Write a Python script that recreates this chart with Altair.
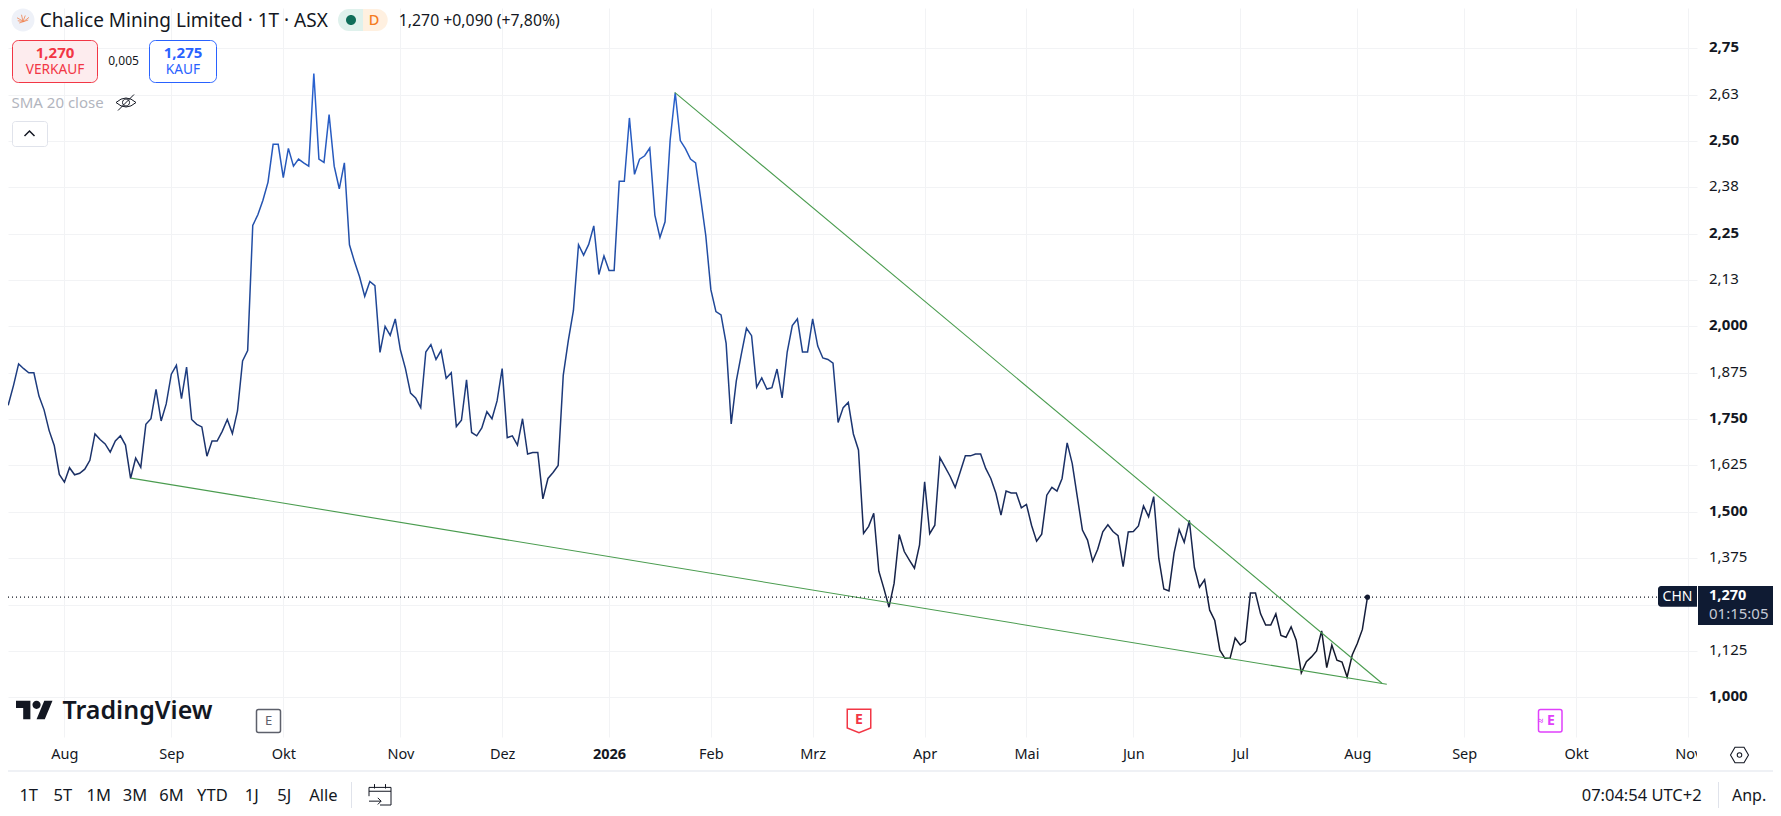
import altair as alt
import pandas as pd

closes = [
 1.808,1.803,1.790,1.841,1.899,1.886,1.875,1.875,1.812,1.775,1.719,1.679,1.601,1.580,1.619,1.600,
 1.604,1.615,1.639,1.710,1.695,1.683,1.661,1.691,1.705,1.680,1.590,1.645,1.620,1.736,1.751,1.830,
 1.745,1.791,1.871,1.895,1.805,1.890,1.749,1.736,1.729,1.650,1.691,1.691,1.717,1.749,
 1.711,1.772,1.907,1.935,2.272,2.301,2.340,2.389,2.491,2.491,2.401,2.480,2.432,2.451,2.441,2.432,
 2.682,2.451,2.442,2.571,2.432,2.371,2.441,2.220,2.174,2.133,2.081,2.121,2.110,1.930,2.000,1.976,
 2.020,1.937,1.886,1.820,1.807,1.781,1.931,1.951,1.911,1.935,1.860,1.875,1.730,
 1.747,1.856,1.714,1.705,1.726,1.770,1.751,1.799,1.886,1.700,1.705,1.680,1.751,1.656,1.660,1.660,
 1.535,1.590,1.606,1.625,1.868,1.962,2.043,2.220,2.192,2.221,2.271,2.140,2.190,2.151,2.151,2.391,
 2.391,2.562,2.410,2.451,2.460,2.481,2.300,2.240,2.282,2.502,2.630,2.501,2.479,2.451,
 2.441,2.345,2.245,2.099,2.040,2.031,1.954,1.737,1.853,1.926,1.995,1.975,1.836,1.861,1.831,1.835,
 1.885,1.807,1.931,2.002,2.020,1.931,1.931,2.020,1.947,1.915,1.911,1.901,1.741,1.781,1.795,1.710,
 1.667,1.442,1.461,1.496,1.340,1.293,1.243,1.307,1.439,1.393,1.370,1.348,1.411,
 1.581,1.441,1.464,1.646,1.621,1.596,1.566,1.608,1.651,1.651,1.656,1.656,1.617,1.590,1.550,1.491,
 1.556,1.551,1.551,1.511,1.520,1.464,1.421,1.440,1.545,1.566,1.556,1.590,1.686,1.630,1.540,1.451,
 1.424,1.367,1.399,1.446,1.465,1.447,1.436,1.352,1.446,1.447,1.462,1.516,1.487,1.541,
 1.375,1.292,1.287,1.389,1.452,1.418,1.477,1.350,1.297,1.317,1.235,1.207,1.127,1.105,1.105,1.160,
 1.141,1.151,1.281,1.281,1.225,1.195,1.195,1.225,1.167,1.162,1.190,1.154,1.066,1.096,1.109,1.125,
 1.179,1.080,1.141,1.100,1.095,1.055,1.114,1.145,1.183,1.270,
]
last_price = 1.27
lower_x, lower_y = [26.08, 272.8], [1.591, 1.035]
upper_x, upper_y = [132.9, 271.85], [2.631, 1.038]
y_ticks = [1.0,1.125,1.25,1.375,1.5,1.625,1.75,1.875,2.0,2.125,2.25,2.375,2.5,2.625,2.75]
month_idx = [13,34,56,79,99,120,140,160,182,202,223,244,267,288,310,332]
month_txt = ["Aug","Sep","Okt","Nov","Dez","2026","Feb","Mrz","Apr","Mai","Jun","Jul","Aug","Sep","Okt","Nov"]
ranges = ["1T","5T","1M","3M","6M","YTD","1J","5J","Alle"]
range_x = [28.7,62.8,98.7,135,171.4,212.4,251.8,284.3,323.4]

FONT = "Noto Sans"
INK = "#131722"
GRID = "#f2f3f5"
one = pd.DataFrame({"a": [0]})
OX = OY = 8  # page margin

def txt(s, x, y, size=13, color=INK, weight="normal", align="center", font=FONT):
    return alt.Chart(one).mark_text(text=s, fontSize=size, color=color, fontWeight=weight, align=align,
                                    baseline="middle", font=font).encode(x=alt.value(x-OX), y=alt.value(y-OY))

def box(x1, y1, x2, y2, fill="#ffffff", stroke=None, sw=1, **kw):
    args = dict(fill=fill, strokeWidth=sw, **kw)
    if stroke:
        args["stroke"] = stroke
    return alt.Chart(one).mark_rect(**args).encode(x=alt.value(x1-OX), x2=alt.value(x2-OX),
                                                  y=alt.value(y1-OY), y2=alt.value(y2-OY))

def icon(path, x, y, w, color=INK, filled=False, sw=1.2):
    args = dict(shape=path, size=w*w, filled=filled, opacity=1, strokeWidth=sw)
    if filled:
        args["fill"] = color
    else:
        args["stroke"] = color
    return alt.Chart(one).mark_point(**args).encode(x=alt.value(x-OX), y=alt.value(y-OY))

x_scale = alt.Scale(domain=[1.9155, 333.74], nice=False, zero=False)
y_scale = alt.Scale(domain=[0.893, 2.8584], nice=False, zero=False)

month_map = "{" + ",".join(f'"{i}":"{t}"' for i, t in zip(month_idx, month_txt)) + "}"
x_axis = alt.Axis(values=month_idx, title=None, domain=False, ticks=False, grid=True, gridColor=GRID, gridWidth=1,
                  labelExpr=f"{month_map}[datum.value]", labelFont=FONT, labelFontSize=14.5, labelColor=INK,
                  labelPadding=17, labelBaseline="middle", labelAngle=0, labelFlush=False, labelOverlap=False,
                  labelFontWeight={"condition": {"test": "datum.value==120", "value": "bold"}, "value": "normal"})
y_axis = alt.Axis(values=y_ticks, title=None, orient="right", domain=False, ticks=False, grid=True, gridColor=GRID,
                  gridWidth=1, labelFont=FONT, labelFontSize=15, labelColor=INK, labelPadding=11.5, labelOverlap=False,
                  labelExpr="datum.value==1.25 ? '' : replace(format(datum.value, datum.value>2 ? '.2f' : '.3f'),'.',',')",
                  labelFlush=False, labelBaseline="middle", labelOffset=-1.5,
                  labelFontWeight={"condition": {"test": "(datum.value*4)%1==0", "value": "bold"}, "value": "normal"})

df = pd.DataFrame({"i": list(range(len(closes))), "close": closes})
gradient = alt.Gradient(gradient="linear", x1=0, x2=0, y1=0, y2=1, stops=[
    alt.GradientStop(color="#2a63d2", offset=0), alt.GradientStop(color="#1f4694", offset=0.4),
    alt.GradientStop(color="#1b3066", offset=0.65), alt.GradientStop(color="#141d3c", offset=0.9),
    alt.GradientStop(color="#131722", offset=1)])

base = alt.Chart(df).mark_line(stroke=gradient, strokeWidth=1.5, clip=True, interpolate="linear").encode(
    x=alt.X("i:Q", scale=x_scale, axis=x_axis), y=alt.Y("close:Q", scale=y_scale, axis=y_axis))

def trend(xs, ys):
    return alt.Chart(pd.DataFrame({"i": xs, "close": ys})).mark_line(color="#4a9c4f", strokeWidth=1.1, clip=True).encode(
        x=alt.X("i:Q", scale=x_scale), y=alt.Y("close:Q", scale=y_scale))

price_rule = alt.Chart(one).mark_rule(color=INK, strokeDash=[1, 3], strokeWidth=1.2).encode(
    y=alt.datum(last_price, scale=y_scale))
end_dot = alt.Chart(df.tail(1)).mark_circle(color="#131a30", size=26, opacity=1).encode(
    x=alt.X("i:Q", scale=x_scale), y=alt.Y("close:Q", scale=y_scale))

CIRC = "M-1,0 a1,1 0 1,0 2,0 a1,1 0 1,0 -2,0 Z"
TV = ("M-1,-.5 H-.222 V.5 H-.611 V-.111 H-1 Z M.556,.5 H.111 L.528,-.5 H.972 Z "
      "M-.111,-.278 a.222,.222 0 1,0 .444,0 a.222,.222 0 1,0 -.444,0 Z")
EYE = "M-1,0 Q0,-.9 1,0 Q0,.9 -1,0 Z M-.8,.8 L.8,-.8 M-.35,0 a.35,.35 0 1,0 .7,0 a.35,.35 0 1,0 -.7,0"
CHEV = "M-1,.5 L0,-.5 L1,.5"
CAL = "M-1,-.6 H1 V1 H0 M-1,-.6 V.2 M-1,-.25 H1 M-.5,-.9 V-.5 M.5,-.9 V-.5 M-1,.65 H.1 M-.2,.35 L.1,.65 L-.2,.95"
HEX = "M-1,0 L-.5,-.866 H.5 L1,0 L.5,.866 H-.5 Z M-.25,0 a.25,.25 0 1,0 .5,0 a.25,.25 0 1,0 -.5,0"
SHIELD = "M-1,-1 H1 V.6 L0,1 L-1,.6 Z"
CRANE = "M-.8,-.3 L.1,.2 L.8,-.35 M-.5,.4 L.7,0 M-.2,-.7 L0,.2 L.3,-.6 M-.7,.1 L.1,.2"

layers = [
    base, trend(lower_x, lower_y), trend(upper_x, upper_y), price_rule, end_dot,
    # header
    icon(CIRC, 23, 20, 23, "#eef1f8", True),
    icon(CRANE, 23, 20, 15, "#f0824f", False, 0.8),
    txt("Chalice Mining Limited · 1T · ASX", 39.8, 21, 19, align="left"),
    box(338, 9, 363, 31, "#dff1ec", cornerRadiusTopLeft=11, cornerRadiusBottomLeft=11),
    box(363, 9, 387.7, 31, "#fff0e0", cornerRadiusTopRight=11, cornerRadiusBottomRight=11),
    icon(CIRC, 351, 20, 10, "#0f6e5a", True),
    txt("D", 374, 20.5, 14.5, "#f57c1f", 500),
    txt("1,270  +0,090 (+7,80%)", 398.8, 21, 15.8, align="left"),
    box(12.5, 40.5, 97.5, 82.5, "#fdecee", "#f23645", 1, cornerRadius=6),
    txt("1,270", 55, 52.5, 15, "#f23645", "bold"),
    txt("VERKAUF", 55, 70, 13.7, "#f23645"),
    txt("0,005", 123.6, 60.5, 12),
    box(149.5, 40.5, 216.5, 82.5, "#ffffff", "#2962ff", 1, cornerRadius=6),
    txt("1,275", 183, 52.5, 15, "#2962ff", "bold"),
    txt("KAUF", 183, 70, 13.7, "#2962ff"),
    txt("SMA 20 close", 11.5, 102.5, 15, "#b2b5be", align="left"),
    icon(EYE, 126, 102.5, 20, INK, False, 1),
    box(12.5, 121.5, 47.5, 146.5, "#ffffff", "#e0e3eb", 1, cornerRadius=3),
    icon(CHEV, 29.5, 133.5, 10, INK, False, 1.5),
    # logo and event badges
    icon(TV, 34.5, 710, 37, "#131722", True, 0),
    txt("TradingView", 62.5, 711, 25, "#131722", 600, align="left"),
    box(256.5, 709.5, 280.5, 732.5, "#ffffff", "#5d606b", 1.5, cornerRadius=2),
    txt("E", 268.5, 721, 13, "#5d606b"),
    icon(SHIELD, 859, 721, 23.5, "#f23645", False, 1.5),
    txt("E", 859, 720, 14, "#f23645", "bold"),
    box(1538.5, 709.5, 1562, 732, "#ffffff", "#e040fb", 1.5, cornerRadius=2),
    txt("E", 1551, 721, 14, "#e040fb", "bold"),
    txt("≈", 1540.5, 721, 10, "#e040fb", "bold"),
    # price tags
    box(1658, 586, 1697, 606.7, "#0f1b33", cornerRadiusTopLeft=3, cornerRadiusBottomLeft=3),
    txt("CHN", 1677.5, 596.5, 14, "#ffffff"),
    box(1698, 586, 1773, 625, "#0f1b33"),
    txt("1,270", 1709, 596, 14.5, "#ffffff", "bold", align="left"),
    txt("01:15:05", 1709, 613.5, 15, "#c5cad6", align="left"),
    # bottom chrome
    box(1697, 744, 1725, 766),
    icon(HEX, 1739.5, 755, 18, INK, False, 1.1),
    box(0, 770.5, 1773, 771.5, "#e0e3eb"),
    box(351, 782, 352, 808, "#e0e3eb"),
    box(1718, 782, 1719, 808, "#e0e3eb"),
    icon(CAL, 380, 794, 22, INK, False, 1),
    txt("07:04:54 UTC+2", 1581.7, 795.5, 16.5, align="left"),
    txt("Anp.", 1732, 795.5, 16, align="left"),
]
layers += [txt(r, x, 795.5, 16.5) for r, x in zip(ranges, range_x)]

chart = alt.layer(*layers).properties(
    width=1689, height=729, padding={"left": 0, "top": 0, "right": 76, "bottom": 71},
    autosize=alt.AutoSizeParams(type="none"), background="#ffffff",
).configure_view(stroke=None)

chart.save("out.html", embed_options={"renderer": "svg", "actions": False})
